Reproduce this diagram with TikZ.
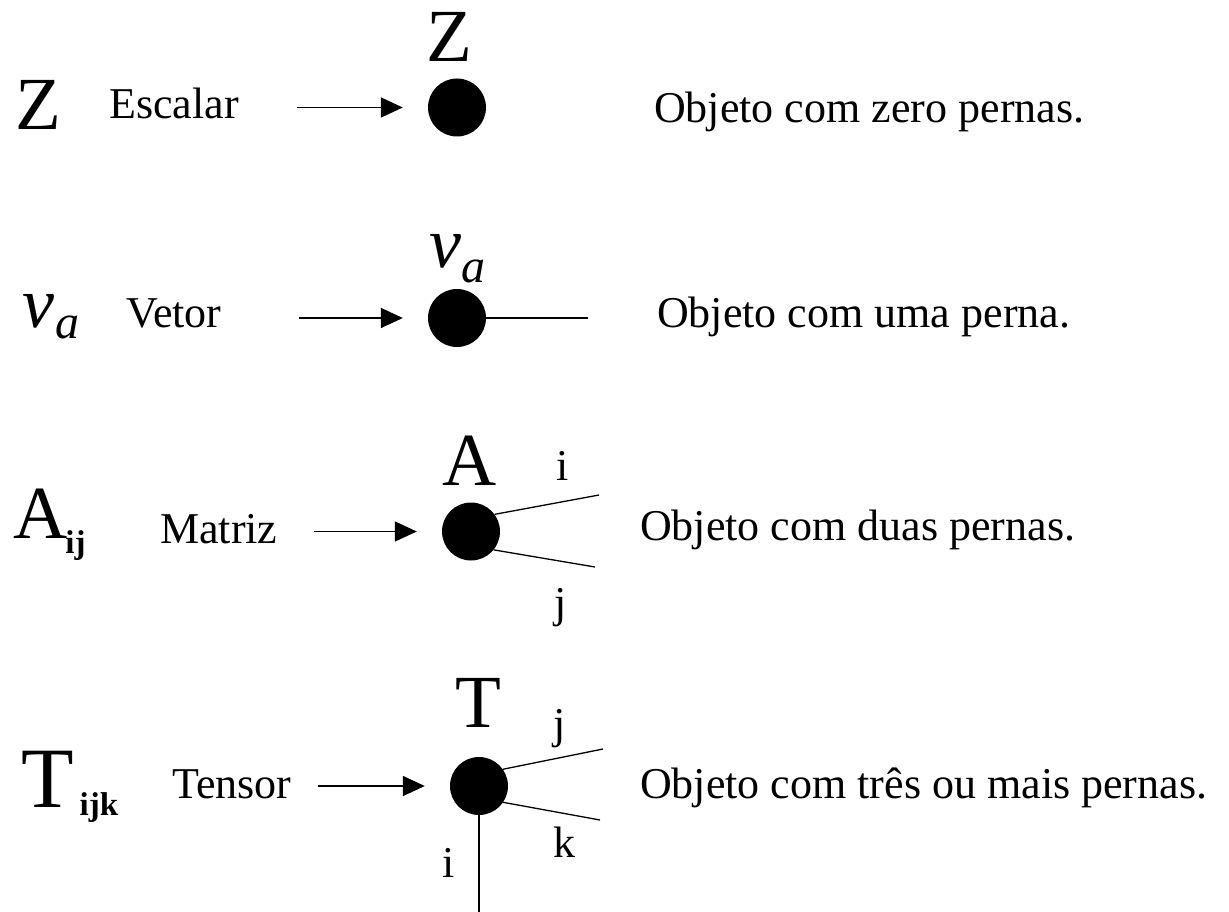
\documentclass[tikz,border=0pt]{standalone}
\usepackage{fontspec}
\setmainfont{Liberation Serif}
\usetikzlibrary{arrows.meta}

\begin{document}
\begin{tikzpicture}[x=1pt,y=-1pt,
  txt/.style={font=\fontsize{44}{44}\selectfont, inner sep=0pt, anchor=base west},
  idx/.style={font=\fontsize{44}{44}\selectfont, inner sep=0pt, anchor=base},
  bigl/.style={font=\fontsize{75}{75}\selectfont, inner sep=0pt},
  dotnode/.style={circle, fill=black, minimum size=58pt, inner sep=0pt},
  arr/.style={line width=1.6pt, -{Triangle[length=22pt,width=20pt]}, shorten >=25pt},
  leg/.style={line width=1.3pt}]
\useasboundingbox (0,0) rectangle (1229,912);

% --- scalar ---
\node[bigl, anchor=base west] (zl) at (15,130) {Z};
\node[txt] (esc) at (109,119) {Escalar};
\node[dotnode] (d1) at (457,107.5) {};
\node[bigl, anchor=base] (zt) at (449,62) {Z};
\node[txt] (r1) at (654,123) {Objeto com zero pernas.};
\coordinate (s1) at (297,107.5);
\draw[arr] (s1) -- (d1);

% --- vector ---
\node[inner sep=0pt, anchor=base west] (vl) at (22,327)
  {\fontsize{72}{72}\selectfont\itshape v\hspace{1pt}\raisebox{-11pt}{\fontsize{48}{48}\selectfont a}};
\node[txt] (vet) at (126,327) {Vetor};
\node[dotnode] (d2) at (457,318) {};
\node[inner sep=0pt, anchor=base west] (vt) at (429,268)
  {\fontsize{72}{72}\selectfont\itshape v\hspace{0pt}\raisebox{-14pt}{\fontsize{48}{48}\selectfont a}};
\node[txt] (r2) at (657,327) {Objeto com uma perna.};
\coordinate (s2) at (299,318);
\coordinate (e2) at (588,318);
\draw[arr] (s2) -- (d2);
\draw[leg] (d2) -- (e2);

% --- matrix ---
\node[inner sep=0pt, anchor=base west] (al) at (13,538)
  {\fontsize{75}{75}\selectfont A\hspace{-2pt}\raisebox{-15pt}{\fontsize{33}{33}\selectfont\bfseries ij}};
\node[txt] (mat) at (160,543) {Matriz};
\node[dotnode] (d3) at (471,531.5) {};
\node[bigl, anchor=base] (at) at (469.5,485) {A};
\node[idx] (i3) at (563,480) {i};
\node[idx] (j3) at (561,617) {j};
\node[txt] (r3) at (640,540) {Objeto com duas pernas.};
\coordinate (s3) at (314,531.5);
\coordinate (e3a) at (599,495);
\coordinate (e3b) at (595,567);
\draw[arr] (s3) -- (d3);
\draw[leg] (d3.36) -- (e3a);
\draw[leg] (d3.-39) -- (e3b);

% --- tensor ---
\node[inner sep=0pt, anchor=base west] (tl) at (21,807)
  {\fontsize{86}{86}\selectfont T\hspace{6pt}\raisebox{-8pt}{\fontsize{33}{33}\selectfont\bfseries ijk}};
\node[txt] (ten) at (172,798) {Tensor};
\node[dotnode] (d4) at (479,786) {};
\node[bigl, anchor=base] (tt) at (478.5,727) {T};
\node[idx] (j4) at (560,738) {j};
\node[idx] (k4) at (564,857) {k};
\node[idx] (i4) at (449,877) {i};
\node[txt] (r4) at (640,798) {Objeto com três ou mais pernas.};
\coordinate (s4) at (318,786);
\coordinate (e4a) at (603,749);
\coordinate (e4b) at (600,820);
\coordinate (e4c) at (479,912);
\draw[arr] (s4) -- (d4);
\draw[leg] (d4.35) -- (e4a);
\draw[leg] (d4.-34) -- (e4b);
\draw[leg] (d4.south) -- (e4c);
\end{tikzpicture}
\end{document}
